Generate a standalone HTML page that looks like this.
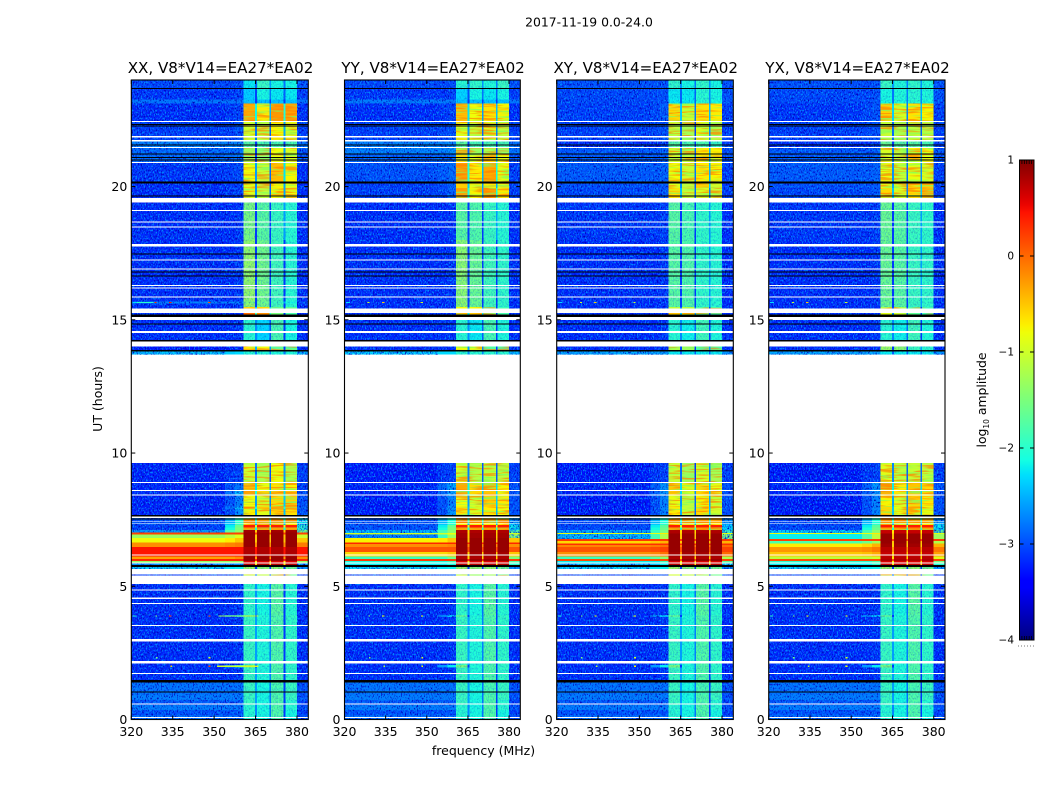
<!DOCTYPE html>
<html lang="en">
<head>
<meta charset="utf-8">
<title>2017-11-19 amplitude waterfall</title>
<style>
html,body{margin:0;padding:0;background:#fff;}
svg{display:block;}
text{font-family:"DejaVu Sans","Liberation Sans",sans-serif;fill:#000;}
</style>
</head>
<body>
<svg id="chart" xmlns="http://www.w3.org/2000/svg" width="1050" height="800" viewBox="0 0 1050 800">
  <defs id="defs"></defs>
  <rect x="0" y="0" width="1050" height="800" fill="#fff"/>
  <text x="589" y="26.5" font-size="12.4" text-anchor="middle">2017-11-19 0.0-24.0</text>
  <text x="0" y="0" font-size="12.5" text-anchor="middle" transform="translate(102,399) rotate(-90)">UT (hours)</text>
  <text x="483.5" y="755" font-size="12.5" text-anchor="middle">frequency (MHz)</text>
  <text x="0" y="0" font-size="12.4" text-anchor="middle" transform="translate(986,400) rotate(-90)">log<tspan font-size="7.5" dy="3">10</tspan><tspan dy="-3"> amplitude</tspan></text>
  <g id="panels"></g>
  <g id="colorbar"></g>
</svg>
<script>
// ---------- chart data (frequency in MHz, time in UT hours, levels in log10 amplitude) ----------
const xTicks = [320, 335, 350, 365, 380];
const yTicks = [0, 5, 10, 15, 20];
const colorTicks = [1, 0, -1, -2, -3, -4];
const panelTitles = ["XX, V8*V14=EA27*EA02", "YY, V8*V14=EA27*EA02", "XY, V8*V14=EA27*EA02", "YX, V8*V14=EA27*EA02"];
const channelEdges = [320, 354, 357.5, 360.6, 364.8, 365.5, 370.1, 370.6, 375.2, 375.8, 380, 384.1];

// row = [startHour, background, nearBand1, nearBand2, spw1, spw2, spw3, spw4, aboveBand]
const sharedLowRows = [
  [0,    -2.85,-2.85,-2.85,-2.0,-2.1,-1.75,-2.1,-3.0],
  [0.17, -3.0, -3.0, -3.0, -2.0,-2.1,-1.75,-2.1,-3.1],
  [0.36, -2.75,-2.75,-2.75,-2.0,-2.1,-1.75,-2.0,-3.0],
  [0.54, -2.95,-2.95,-2.95,-1.9,-2.1,-1.75,-2.0,-3.1],
  [0.73, -2.75,-2.75,-2.75,-1.9,-2.1,-1.75,-1.9,-3.0],
  [0.92, -2.8, -2.8, -2.8, -1.9,-2.1,-1.8, -1.9,-3.0],
  [1.42, -3.2, -3.2, -3.15,-1.9,-2.05,-1.75,-1.95,-3.2],
  [1.96, -3.2, -2.6, -2.2, -1.5,-2.05,-1.75,-1.95,-3.2],
  [2.04, -3.2, -3.2, -3.15,-1.9,-2.05,-1.75,-1.95,-3.2],
  [3.84, -3.2, -2.7, -2.4, -1.7,-2.05,-1.75,-1.95,-3.2],
  [3.92, -3.2, -3.2, -3.15,-1.95,-2.1,-1.7,-2.0,-3.2],
  [5.40, -3.1, -3.0, -3.0, -1.0,-1.1,-1.3,-1.6,-3.1],
  [5.65, -2.25,-2.25,-2.2, -1.3,-1.4,-1.4,-1.6,-2.6]
];
const rowsXX = [
  [5.73,-3,-3,-3,-2.3,-2.3,-2.3,-2.3,-3],
  [5.80,-2.6,-2.6,-2.6,0.75,0.75,0.75,0.75,-2.4],
  [5.87,-1.4,-1.4,-1.4,0.6,0.6,0.6,0.6,-1.4],
  [5.95,0.35,0.35,0.35,0.9,0.9,0.9,0.9,0.35],
  [6.02,-0.3,-0.3,-0.2,0.9,0.9,0.9,0.9,-0.2],
  [6.11,0.45,0.45,0.45,0.8,0.8,0.8,0.8,0.45],
  [6.48,-0.2,-0.15,-0.1,0.9,0.9,0.9,0.9,-0.1],
  [6.65,-0.8,-0.7,-0.5,0.9,0.9,0.9,0.9,-0.5],
  [6.82,-1.3,-1.1,-0.9,0.9,0.9,0.9,0.9,-1.0],
  [6.95,0.2,0.2,0.2,0.9,0.9,0.9,0.9,0.2],
  [7.02,-2.6,-1.7,-1.4,0.85,0.85,0.85,0.85,-1.5],
  [7.11,-3.1,-2.1,-1.5,-0.3,-0.3,-0.3,-0.3,-2.0],
  [7.2,-3.1,-2.2,-1.6,0.4,0.4,0.4,0.4,-2.0],
  [7.3,-3.0,-2.4,-1.9,-0.7,-0.7,-0.7,-0.7,-2.2],
  [7.38,-3.0,-2.5,-2.0,-0.2,-0.3,-0.2,-0.2,-2.2],
  [7.64,-3.25,-3.0,-2.6,-0.75,-0.9,-0.6,-0.65,-3.0],
  [7.9,-3.25,-2.8,-2.4,-0.35,-0.5,-0.3,-0.4,-2.9],
  [8.0,-3.25,-3.0,-2.7,-0.8,-0.95,-0.6,-0.55,-3.0],
  [8.42,-3.2,-2.8,-2.4,-0.3,-0.6,-0.45,-0.5,-3.0],
  [8.6,-3.25,-3.0,-2.8,-0.45,-0.8,-0.65,-0.75,-3.1],
  [8.9,-3.25,-3.15,-3.1,-1.0,-1.2,-0.8,-1.2,-3.1],
  [9.62,null,null,null,null,null,null,null,null],
  [13.69,-2.35,-2.35,-2.3,-2.05,-2.05,-2.05,-2.05,-2.4],
  [13.84,-3.3,-3.3,-3.2,-0.7,-0.8,-1.7,-1.9,-3.2],
  [14.0,-3.2,-3.2,-3.15,-2.0,-2.3,-1.8,-2.1,-3.2],
  [15.2,-3.2,-3.2,-3.2,0.0,-0.2,-1.5,-1.8,-3.2],
  [15.42,-3.2,-3.2,-3.2,-0.6,-0.6,-1.7,-1.9,-3.2],
  [15.48,-3.2,-3.2,-3.15,-1.35,-1.55,-1.85,-2.0,-3.2],
  [15.62,-2.7,-2.7,-2.7,-1.5,-1.6,-1.9,-2.1,-3.0],
  [15.68,-3.2,-3.2,-3.15,-1.35,-1.55,-1.85,-2.0,-3.2],
  [18.0,-3.2,-3.2,-3.15,-1.5,-1.7,-1.9,-2.0,-3.2],
  [19.58,-3.2,-3.15,-3.1,-0.9,-1.1,-0.75,-0.85,-3.2],
  [20.16,-3.15,-3.1,-3.05,-0.8,-1.05,-0.45,-0.75,-3.2],
  [20.91,-2.85,-2.85,-2.8,-1.3,-1.4,-0.8,-0.95,-3.0],
  [21.47,-2.7,-2.7,-2.65,-1.7,-1.8,-1.8,-1.8,-2.8],
  [21.72,-3.1,-3.1,-3.0,-1.0,-1.1,-0.75,-0.9,-3.1],
  [22.44,-3.2,-3.15,-3.1,-0.35,-0.7,-0.25,-0.3,-3.2],
  [23.12,-2.8,-2.8,-2.8,-2.4,-2.4,-2.4,-2.4,-2.8],
  [23.27,-3.15,-3.15,-3.1,-2.35,-2.1,-2.2,-2.2,-3.1],
  [23.68,-3.05,-3.05,-3.0,-2.2,-1.9,-2.1,-2.1,-3.0]
];
const rowsYY = [
  [5.73,-3,-3,-3,-2.3,-2.3,-2.3,-2.3,-3],
  [5.80,-2.2,-2.2,-2.1,0.75,0.75,0.75,0.75,-2.0],
  [5.87,-2.1,-2.1,-1.9,0.6,0.6,0.6,0.6,-1.8],
  [5.95,0.25,0.25,0.25,0.9,0.9,0.9,0.9,0.25],
  [6.02,-1.9,-1.9,-1.6,0.8,0.8,0.8,0.8,-1.5],
  [6.11,-0.6,-0.6,-0.5,0.85,0.85,0.85,0.85,-0.5],
  [6.285,0.1,0.1,0.1,0.9,0.9,0.9,0.9,0.1],
  [6.48,-0.2,-0.2,-0.15,0.9,0.9,0.9,0.9,-0.2],
  [6.585,0.35,0.35,0.35,0.9,0.9,0.9,0.9,0.35],
  [6.65,-0.75,-0.7,-0.5,0.9,0.9,0.9,0.9,-0.5],
  [6.82,-2.7,-1.9,-1.3,0.85,0.85,0.85,0.85,-1.4],
  [6.95,-1.0,-1.0,-0.8,0.85,0.85,0.85,0.85,-1.0],
  [7.0,-2.4,-1.8,-1.4,0.8,0.8,0.8,0.8,-1.7],
  [7.11,-3.0,-2.1,-1.5,-0.3,-0.3,-0.3,-0.3,-2.2],
  [7.2,-3.0,-2.2,-1.6,0.4,0.4,0.4,0.4,-2.2],
  [7.3,-3.0,-2.4,-2.0,-0.7,-0.7,-0.7,-0.7,-2.4],
  [7.38,-3.0,-2.5,-2.1,-0.15,-0.25,-0.2,-0.2,-2.6],
  [7.64,-3.3,-3.0,-2.6,-0.65,-0.9,-0.7,-0.8,-3.0],
  [8.0,-3.3,-3.0,-2.7,-0.8,-1.0,-0.55,-0.7,-3.0],
  [8.42,-3.25,-2.85,-2.5,-0.35,-0.6,-0.5,-0.75,-3.0],
  [8.9,-3.3,-3.15,-3.1,-0.95,-1.15,-1.1,-1.1,-3.1],
  [9.62,null,null,null,null,null,null,null,null],
  [13.69,-2.3,-2.3,-2.3,-2.0,-2.0,-2.0,-2.0,-2.4],
  [13.84,-3.2,-3.2,-3.2,-0.8,-0.9,-1.8,-1.9,-3.2],
  [14.0,-3.2,-3.2,-3.15,-2.0,-2.2,-1.8,-2.05,-3.2],
  [15.2,-3.2,-3.2,-3.2,-0.4,-0.5,-1.5,-1.8,-3.2],
  [15.42,-3.2,-3.2,-3.2,-0.8,-0.8,-1.7,-1.9,-3.2],
  [15.48,-3.2,-3.2,-3.15,-1.4,-1.6,-1.85,-1.95,-3.2],
  [18.0,-3.2,-3.2,-3.15,-1.7,-1.75,-1.9,-2.0,-3.2],
  [19.58,-3.1,-3.05,-2.9,-0.3,-0.75,-0.3,-0.7,-3.1],
  [19.95,-3.1,-3.05,-2.9,-0.55,-0.85,-0.7,-0.95,-3.1],
  [20.16,-3.0,-2.95,-2.85,-0.3,-0.7,-0.35,-0.85,-3.1],
  [20.91,-2.9,-2.9,-2.85,-0.6,-0.9,-0.55,-0.85,-3.0],
  [21.22,-2.7,-2.7,-2.6,-1.1,-1.3,-1.2,-1.35,-2.8],
  [21.47,-2.7,-2.7,-2.65,-1.7,-1.8,-1.8,-1.8,-2.8],
  [21.72,-3.1,-3.05,-3.0,-0.85,-1.05,-0.95,-1.1,-3.1],
  [22.44,-3.2,-3.15,-3.1,-0.45,-0.8,-0.65,-0.75,-3.2],
  [23.12,-2.75,-2.75,-2.75,-2.4,-2.4,-2.4,-2.4,-2.8],
  [23.27,-3.15,-3.15,-3.1,-2.3,-2.1,-2.2,-2.1,-3.1],
  [23.68,-3.05,-3.05,-3.0,-2.0,-1.95,-2.05,-1.9,-3.0]
];
const rowsXY = [
  [5.73,-3,-3,-3,-2.3,-2.3,-2.3,-2.3,-3],
  [5.80,-2.4,-2.4,-2.2,0.75,0.75,0.75,0.75,-2.2],
  [5.87,-2.2,-2.2,-1.9,0.6,0.6,0.6,0.6,-1.7],
  [5.95,0.15,0.15,0.15,0.9,0.9,0.9,0.9,0.2],
  [6.02,-1.9,-1.7,-1.4,0.8,0.8,0.8,0.8,-1.2],
  [6.11,-0.2,-0.15,-0.05,0.85,0.85,0.85,0.85,0.0],
  [6.285,0.1,0.15,0.2,0.9,0.9,0.9,0.9,0.2],
  [6.48,-0.15,-0.1,-0.05,0.9,0.9,0.9,0.9,0.0],
  [6.55,0.3,0.3,0.3,0.9,0.9,0.9,0.9,0.3],
  [6.6,-0.6,-0.5,-0.4,0.9,0.9,0.9,0.9,-0.4],
  [6.7,0.25,0.25,0.25,0.9,0.9,0.9,0.9,0.25],
  [6.77,-2.4,-1.8,-1.2,0.9,0.9,0.9,0.9,-1.4],
  [6.96,-0.85,-0.85,-0.7,0.85,0.85,0.85,0.85,-0.9],
  [7.0,-2.5,-1.9,-1.5,0.8,0.8,0.8,0.8,-1.9],
  [7.11,-3.05,-2.1,-1.6,-0.3,-0.3,-0.3,-0.3,-2.3],
  [7.2,-3.05,-2.2,-1.7,0.4,0.4,0.4,0.4,-2.3],
  [7.3,-3.05,-2.4,-2.0,-0.7,-0.7,-0.7,-0.7,-2.5],
  [7.38,-3.05,-2.5,-2.1,-0.3,-0.35,-0.3,-0.35,-2.6],
  [7.64,-3.3,-3.0,-2.7,-0.7,-1.05,-0.6,-1.0,-3.0],
  [8.0,-3.3,-3.0,-2.7,-0.85,-1.1,-0.75,-1.0,-3.0],
  [8.42,-3.25,-2.9,-2.6,-0.5,-0.85,-0.6,-0.85,-3.0],
  [8.9,-3.3,-3.15,-3.1,-1.05,-1.3,-1.0,-1.25,-3.1],
  [9.62,null,null,null,null,null,null,null,null],
  [13.69,-2.5,-2.5,-2.5,-2.2,-2.2,-2.2,-2.2,-2.6],
  [13.84,-3.2,-3.2,-3.2,-1.2,-1.3,-1.9,-2.0,-3.2],
  [14.0,-3.2,-3.2,-3.15,-2.0,-2.15,-1.85,-2.05,-3.2],
  [15.2,-3.2,-3.2,-3.2,-0.6,-0.8,-1.6,-1.9,-3.2],
  [15.42,-3.2,-3.2,-3.2,-1.0,-1.0,-1.8,-1.95,-3.2],
  [15.48,-3.2,-3.2,-3.15,-1.7,-1.75,-1.95,-2.0,-3.2],
  [18.0,-3.15,-3.15,-3.1,-1.7,-1.8,-1.95,-2.0,-3.2],
  [19.58,-3.05,-3.0,-2.95,-0.65,-1.05,-0.95,-1.05,-3.1],
  [19.95,-3.0,-3.0,-2.95,-0.9,-1.1,-0.55,-1.0,-3.1],
  [20.16,-2.95,-2.95,-2.9,-0.8,-1.0,-0.7,-0.75,-3.1],
  [20.91,-2.95,-2.95,-2.9,-1.0,-1.1,-0.7,-0.75,-3.0],
  [21.47,-3.2,-3.2,-3.1,-1.7,-1.8,-1.8,-1.9,-3.1],
  [21.72,-3.1,-3.05,-3.0,-1.1,-1.25,-0.9,-1.15,-3.1],
  [22.44,-3.1,-3.05,-2.95,-0.6,-1.0,-0.65,-0.7,-3.1],
  [23.12,-3.05,-3.05,-3.0,-2.2,-2.2,-2.0,-2.1,-3.0],
  [23.68,-3.0,-3.0,-3.0,-1.95,-2.1,-1.95,-2.1,-3.0]
];
const rowsYX = [
  [5.73,-3,-3,-3,-2.3,-2.3,-2.3,-2.3,-3],
  [5.80,-2.2,-2.2,-2.0,0.7,0.7,0.7,0.7,-2.0],
  [5.87,-2.0,-2.0,-1.8,0.6,0.6,0.6,0.6,-1.6],
  [5.95,0.15,0.15,0.15,0.8,0.8,0.8,0.8,0.2],
  [6.02,-1.1,-1.1,-1.0,0.75,0.75,0.75,0.75,-0.9],
  [6.11,-0.5,-0.45,-0.35,0.7,0.7,0.7,0.7,-0.3],
  [6.285,-0.25,-0.2,-0.1,0.75,0.75,0.75,0.75,-0.1],
  [6.48,-0.7,-0.6,-0.4,0.85,0.85,0.85,0.85,-0.4],
  [6.6,-1.8,-1.6,-1.3,0.9,0.9,0.9,0.9,-1.2],
  [6.7,0.2,0.2,0.2,0.9,0.9,0.9,0.9,0.25],
  [6.77,-2.2,-1.7,-1.1,0.9,0.9,0.9,0.9,-1.3],
  [6.96,-0.85,-0.85,-0.7,0.8,0.8,0.8,0.8,-0.9],
  [7.0,-2.3,-1.8,-1.4,0.7,0.7,0.7,0.7,-1.7],
  [7.11,-3.05,-2.1,-1.6,-0.3,-0.3,-0.3,-0.3,-2.2],
  [7.2,-3.05,-2.2,-1.7,0.4,0.4,0.4,0.4,-2.2],
  [7.3,-3.05,-2.4,-2.0,-0.7,-0.7,-0.7,-0.7,-2.4],
  [7.38,-3.05,-2.5,-2.1,-0.25,-0.3,-0.3,-0.3,-2.6],
  [7.64,-3.3,-3.0,-2.7,-0.6,-0.85,-0.75,-0.85,-3.0],
  [8.0,-3.3,-3.0,-2.7,-0.75,-0.95,-0.6,-0.7,-3.0],
  [8.42,-3.25,-2.9,-2.6,-0.4,-0.7,-0.5,-0.6,-3.0],
  [8.9,-3.3,-3.15,-3.1,-0.9,-1.1,-1.05,-1.1,-3.1],
  [9.62,null,null,null,null,null,null,null,null],
  [13.69,-2.5,-2.5,-2.5,-2.2,-2.2,-2.2,-2.2,-2.6],
  [13.84,-3.2,-3.2,-3.2,-1.3,-1.4,-1.9,-2.0,-3.2],
  [14.0,-3.2,-3.2,-3.15,-2.0,-2.15,-1.85,-2.05,-3.2],
  [15.2,-3.2,-3.2,-3.2,-0.9,-1.0,-1.7,-1.9,-3.2],
  [15.42,-3.2,-3.2,-3.2,-1.2,-1.2,-1.85,-1.95,-3.2],
  [15.48,-3.2,-3.2,-3.15,-1.6,-1.7,-1.9,-1.95,-3.2],
  [18.0,-3.15,-3.15,-3.1,-1.6,-1.7,-1.9,-1.95,-3.2],
  [19.58,-3.05,-3.0,-2.95,-0.6,-0.95,-0.6,-0.4,-3.1],
  [19.95,-3.0,-3.0,-2.95,-0.8,-1.0,-0.65,-0.55,-3.1],
  [20.16,-2.95,-2.95,-2.9,-0.85,-1.05,-0.85,-0.95,-3.1],
  [20.91,-2.95,-2.95,-2.9,-0.95,-1.1,-0.75,-0.85,-3.0],
  [21.47,-3.2,-3.2,-3.1,-1.6,-1.7,-1.7,-1.8,-3.1],
  [21.72,-3.1,-3.05,-3.0,-1.05,-1.2,-1.1,-1.15,-3.1],
  [22.44,-3.15,-3.05,-3.0,-0.55,-0.95,-0.65,-0.75,-3.1],
  [23.12,-3.05,-3.05,-3.0,-2.1,-2.05,-2.0,-2.05,-3.0],
  [23.68,-3.0,-3.0,-3.0,-1.9,-2.05,-1.95,-2.05,-3.0]
];
const panelRows = [rowsXX, rowsYY, rowsXY, rowsYX];

// flagged time ranges [startHour, endHour]
const whiteFlagRows = [
  [0.05,0.09],[0.56,0.6],[1.71,1.75],[2.1,2.2],[2.93,3.02],[3.51,3.55],[4.34,4.38],[4.53,4.57],[4.84,4.88],
  [5.08,5.4],[5.45,5.65],[5.86,5.9],[6.15,6.19],[7.35,7.38],[7.41,7.44],[7.56,7.62],[8.4,8.44],[8.58,8.62],[8.88,8.92],
  [13.99,14.18],[14.5,14.58],[14.99,15.11],[15.25,15.42],[15.83,15.87],[16.17,16.21],[16.26,16.3],[16.88,16.92],
  [17.22,17.26],[17.75,17.84],[18.46,18.5],[18.65,18.69],[19.09,19.13],[19.41,19.58],[20.89,20.93],[21.45,21.49],
  [21.7,21.74],[21.85,21.89],[22.42,22.46]
];
const blackFlagRows = [
  [1.02,1.06],[1.39,1.48],[5.73,5.8],[7.5,7.54],[7.62,7.67],[13.82,13.86],[14.18,14.24],[14.82,14.86],[15.11,15.2],
  [16.62,16.66],[16.77,16.81],[17.45,17.49],[19.62,19.66],[20.12,20.2],[20.98,21.02],[21.07,21.11],[21.2,21.24],
  [21.54,21.58],[22.25,22.29],[22.31,22.35],[23.66,23.7]
];
// narrow interference spots [hour, startMHz, endMHz, level]
const rfiSpots = [
  [15.65,320.5,322,-2.3],[15.65,328.4,329.2,-1.0],[15.65,333.6,334.5,-0.5],[15.65,347.8,348.6,-1.0],
  [3.88,320.5,321.5,-2.0],[3.88,328.8,329.3,-1.5],[3.88,333.7,334.5,-0.8],[3.88,347.9,348.7,-0.8],
  [2.32,328.9,329.4,-1.5],[2.32,348,348.7,-1.0],
  [2,334.2,334.8,-1.2],[2,348,348.7,-0.8]
];
// extra interference seen only in the XX panel
const rfiSpotsXX = [
  [15.65,322,328,-2.0],[15.65,328.4,329.2,0.3],[15.65,333.6,334.5,0.4],[15.65,347.8,348.6,0.1],
  [3.88,333.7,334.5,0.3],[3.88,347.9,348.7,0.3],[3.88,351.5,360.6,-1.3],[3.88,360.6,366,-1.2],
  [2,351,360.6,-1.0],[2,360.6,366,-1.0],[2,334.2,334.8,-0.5],[2,348,348.7,0.2]
];

// ---------- figure layout ----------
const NS = "http://www.w3.org/2000/svg";
const axTop = 80, axBottom = 719.5, timeMax = 24, freqMin = 320, freqMax = 384.1;
const axLeft = [131.3, 344.5, 556.7, 768.7];
const axRight = [308.3, 520.3, 733.3, 945];
const cbLeft = 1019.5, cbRight = 1034, cbTop = 160, cbBottom = 640;
const panelsRoot = document.getElementById("panels");
const colorbarRoot = document.getElementById("colorbar");
const defsRoot = document.getElementById("defs");

function make(tag, attrs, parent) {
  const el = document.createElementNS(NS, tag);
  for (const k in attrs) el.setAttribute(k, attrs[k]);
  parent.appendChild(el);
  return el;
}
function yScale(hour) { return axBottom - (axBottom - axTop) * hour / timeMax; }
function xScale(f, i) { return axLeft[i] + (axRight[i] - axLeft[i]) * (f - freqMin) / (freqMax - freqMin); }
function cScale(v) { return cbBottom - (cbBottom - cbTop) * (v + 4) / 5; }
function clamp01(v) { return Math.max(0, Math.min(1, v)); }
function jet(t) {
  t = clamp01(t);
  let r = t < 0.35 ? 0 : t < 0.66 ? (t - 0.35) / 0.31 : t < 0.89 ? 1 : 1 - 0.5 * (t - 0.89) / 0.11;
  let g = t < 0.125 ? 0 : t < 0.375 ? (t - 0.125) / 0.25 : t < 0.64 ? 1 : t < 0.91 ? 1 - (t - 0.64) / 0.27 : 0;
  let b = t < 0.11 ? 0.5 + 0.5 * t / 0.11 : t < 0.34 ? 1 : t < 0.65 ? 1 - (t - 0.34) / 0.31 : 0;
  return "rgb(" + Math.round(r * 255) + "," + Math.round(g * 255) + "," + Math.round(b * 255) + ")";
}
function levelColor(v) { return jet((v + 4) / 5); }
function tickLabel(v) { return v < 0 ? "\u2212" + Math.abs(v) : String(v); }
function gapLevel(s, bg) {
  if (s > 0) return Math.max(s - 1.4, bg);
  if (s < -1.85) return s - 0.7;
  return Math.max(-3.1, s - 1.8);
}

function addSpeckleFilters(i) {
  const f = make("filter", { id: "speckle-" + i, x: "0", y: "0", width: "100%", height: "100%", "color-interpolation-filters": "sRGB" }, defsRoot);
  make("feTurbulence", { type: "fractalNoise", baseFrequency: "0.75 0.5", numOctaves: "2", seed: String(7 + i * 5), result: "noise" }, f);
  make("feColorMatrix", { in: "noise", type: "matrix", values: "0 0 0 0 0  0 0 0 0 0.52  0 0 0 0 1  5 0 0 0 -2.5", result: "light" }, f);
  make("feColorMatrix", { in: "noise", type: "matrix", values: "0 0 0 0 0  0 0 0 0 0  0 0 0 0 0.72  0 4 0 0 -2.0", result: "dark" }, f);
  const m = make("feMerge", {}, f);
  make("feMergeNode", { in: "dark" }, m);
  make("feMergeNode", { in: "light" }, m);

  const w = make("filter", { id: "streak-" + i, x: "0", y: "0", width: "100%", height: "100%", "color-interpolation-filters": "sRGB" }, defsRoot);
  make("feTurbulence", { type: "fractalNoise", baseFrequency: "0.04 0.55", numOctaves: "2", seed: String(3 + i * 3), result: "noise" }, w);
  make("feColorMatrix", { in: "noise", type: "matrix", values: "0 0 0 0 1  0 0 0 0 0.5  0 0 0 0 0  6 0 0 0 -3.0", result: "warm" }, w);
  make("feColorMatrix", { in: "noise", type: "matrix", values: "0 0 0 0 0.45  0 0 0 0 1  0 0 0 0 0.4  0 5 0 0 -2.5", result: "cool" }, w);
  const n = make("feMerge", {}, w);
  make("feMergeNode", { in: "cool" }, n);
  make("feMergeNode", { in: "warm" }, n);
}

function drawPanel(i) {
  const rows = sharedLowRows.concat(panelRows[i]);
  const w = axRight[i] - axLeft[i];
  const g = make("g", {}, panelsRoot);
  
  

  const cells = make("g", { "shape-rendering": "crispEdges" }, g);
  
  

  addSpeckleFilters(i);
  const clipBg = make("clipPath", { id: "clip-bg-" + i }, defsRoot);
  const clipBand = make("clipPath", { id: "clip-band-" + i }, defsRoot);
  const clipWarm = make("clipPath", { id: "clip-warm-" + i }, defsRoot);

  rows.forEach(function (row, r) {
    if (row[1] === null) return;
    const t0 = row[0];
    const t1 = r + 1 < rows.length ? rows[r + 1][0] : timeMax;
    const yTop = yScale(t1), yBot = yScale(t0);
    const s = [row[4], row[5], row[6], row[7]];
    const columnLevels = [row[1], row[2], row[3], s[0],
      gapLevel(s[0], row[1]), s[1],
      gapLevel(s[1], row[1]), s[2],
      gapLevel(s[2], row[1]), s[3], row[8]];
    columnLevels.forEach(function (level, c) {
      const x0 = xScale(channelEdges[c], i), x1 = xScale(channelEdges[c + 1], i);
      const cell = make("rect", { x: x0, y: yTop, width: x1 - x0, height: yBot - yTop, fill: levelColor(level) }, cells);
      
      
    });
    if (row[1] < -2.2) {
      const edge = row[3] < -2.3 ? 360.6 : 354;
      make("rect", { x: axLeft[i], y: yTop, width: xScale(edge, i) - axLeft[i], height: yBot - yTop }, clipBg);
      make("rect", { x: xScale(380, i), y: yTop, width: axRight[i] - xScale(380, i), height: yBot - yTop }, clipBg);
    }
    const top = Math.max(s[0], s[1], s[2], s[3]);
    [3, 5, 7, 9].forEach(function (c) {
      const x0 = xScale(channelEdges[c], i), x1 = xScale(channelEdges[c + 1], i);
      if (top < -1.2) make("rect", { x: x0, y: yTop, width: x1 - x0, height: yBot - yTop }, clipBand);
      else if (top < -0.1) make("rect", { x: x0, y: yTop, width: x1 - x0, height: yBot - yTop }, clipWarm);
    });
  });

  const speckleBg = make("rect", { x: axLeft[i], y: axTop, width: w, height: axBottom - axTop, filter: "url(#speckle-" + i + ")", "clip-path": "url(#clip-bg-" + i + ")" }, g);
  
  
  const speckleBand = make("rect", { x: axLeft[i], y: axTop, width: w, height: axBottom - axTop, filter: "url(#speckle-" + i + ")", "clip-path": "url(#clip-band-" + i + ")", opacity: "0.3" }, g);
  
  
  const streakBand = make("rect", { x: axLeft[i], y: axTop, width: w, height: axBottom - axTop, filter: "url(#streak-" + i + ")", "clip-path": "url(#clip-warm-" + i + ")", opacity: "0.7" }, g);
  
  

  const marks = make("g", { "shape-rendering": "crispEdges" }, g);
  
  
  (i === 0 ? rfiSpots.concat(rfiSpotsXX) : rfiSpots).forEach(function (sp) {
    const x0 = xScale(sp[1], i), x1 = xScale(sp[2], i);
    const spot = make("rect", { x: x0, y: yScale(sp[0]) - 0.6, width: x1 - x0, height: 1.2, fill: levelColor(sp[3]) }, marks);
    
    
  });
  blackFlagRows.forEach(function (f) {
    const b = make("rect", { x: axLeft[i], y: yScale(f[1]), width: w, height: yScale(f[0]) - yScale(f[1]), fill: "#000" }, marks);
    
    
  });
  whiteFlagRows.forEach(function (f) {
    const b = make("rect", { x: axLeft[i], y: yScale(f[1]), width: w, height: yScale(f[0]) - yScale(f[1]), fill: "#fff" }, marks);
    
    
  });

  const frame = make("rect", { x: axLeft[i], y: axTop, width: w, height: axBottom - axTop, fill: "none", stroke: "#000", "stroke-width": "1.1" }, g);
  
  

  const title = make("text", { x: (axLeft[i] + axRight[i]) / 2 + 0.7, y: 73, "font-size": "15.1", "text-anchor": "middle" }, g);
  title.textContent = panelTitles[i];
  
  

  xTicks.forEach(function (v) {
    const x = xScale(v, i);
    const bottomTick = make("line", { x1: x, x2: x, y1: axBottom, y2: axBottom - 4, stroke: "#000", "stroke-width": "1" }, g);
    
    
    const topTick = make("line", { x1: x, x2: x, y1: axTop, y2: axTop + 4, stroke: "#000", "stroke-width": "1" }, g);
    
    
    const label = make("text", { x: x, y: 736, "font-size": "12.5", "text-anchor": "middle" }, g);
    label.textContent = String(v);
    
    
  });
  yTicks.forEach(function (v) {
    const y = yScale(v);
    const leftTick = make("line", { x1: axLeft[i], x2: axLeft[i] + 4, y1: y, y2: y, stroke: "#000", "stroke-width": "1" }, g);
    
    
    const rightTick = make("line", { x1: axRight[i], x2: axRight[i] - 4, y1: y, y2: y, stroke: "#000", "stroke-width": "1" }, g);
    
    
    const label = make("text", { x: axLeft[i] - 4, y: y + 4.5, "font-size": "12.5", "text-anchor": "end" }, g);
    label.textContent = String(v);
    
    
  });
}

function drawColorbar() {
  const grad = make("linearGradient", { id: "jet-gradient", x1: "0", y1: "1", x2: "0", y2: "0" }, defsRoot);
  for (let k = 0; k <= 64; k++) {
    make("stop", { offset: k / 64, "stop-color": jet(k / 64) }, grad);
  }
  const bar = make("rect", { x: cbLeft, y: cbTop, width: cbRight - cbLeft, height: cbBottom - cbTop, fill: "url(#jet-gradient)", stroke: "#000", "stroke-width": "1" }, colorbarRoot);
  
  
  colorTicks.forEach(function (v) {
    const y = cScale(v);
    const leftTick = make("line", { x1: cbLeft, x2: cbLeft + 4, y1: y, y2: y, stroke: "#000", "stroke-width": "1" }, colorbarRoot);
    
    
    const rightTick = make("line", { x1: cbRight, x2: cbRight - 4, y1: y, y2: y, stroke: "#000", "stroke-width": "1" }, colorbarRoot);
    
    
    const label = make("text", { x: cbLeft - 5.5, y: y + 3.5, "font-size": "10.5", "text-anchor": "end" }, colorbarRoot);
    label.textContent = tickLabel(v);
    
    
  });
  for (let k = 1; k <= 5; k++) {
    const x = cbLeft + (cbRight - cbLeft) * k / 6;
    const minorTop = make("line", { x1: x, x2: x, y1: cbTop, y2: cbTop + 4, stroke: "#000", "stroke-width": "0.8" }, colorbarRoot);
    
    
    const minorBottom = make("line", { x1: x, x2: x, y1: cbBottom, y2: cbBottom - 4, stroke: "#000", "stroke-width": "0.8" }, colorbarRoot);
    
    
  }
  const dots = make("line", { x1: cbLeft - 1.5, x2: cbRight + 1, y1: 646, y2: 646, stroke: "#777", "stroke-width": "1", "stroke-dasharray": "1 2" }, colorbarRoot);
  
  
}

panelRows.forEach(function (_, i) { drawPanel(i); });
drawColorbar();
</script>
</body>
</html>
